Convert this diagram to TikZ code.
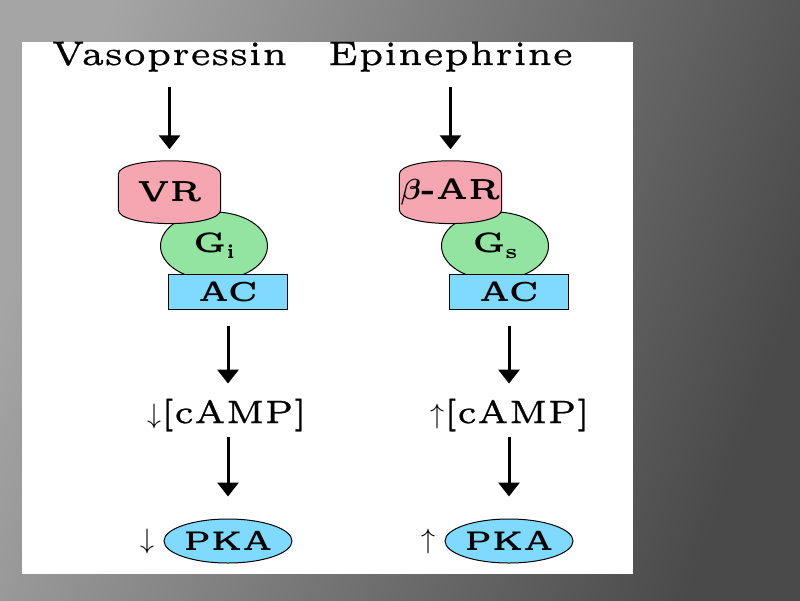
\RequirePackage{fix-cm}
\documentclass[tikz,border=0pt]{standalone}
\usepackage{fontspec}
\usepackage{amsmath,bm}
\usepackage{graphicx}
\newfontfamily\lmfive{lmroman5-regular.otf}[BoldFont=lmroman5-bold.otf]
\newfontfamily\lmfiveheavy{lmroman5-regular.otf}[FakeBold=0.7]
\usetikzlibrary{arrows.meta,shapes.geometric,backgrounds}
\definecolor{bglight}{RGB}{165,165,165}
\definecolor{bgmid}{RGB}{96,96,96}
\definecolor{bgdark}{RGB}{74,74,74}
\definecolor{rpink}{RGB}{246,166,176}
\definecolor{ggreen}{RGB}{146,228,160}
\definecolor{acblue}{RGB}{128,218,255}
\tikzset{
  hd/.style={inner sep=0pt, font=\lmfiveheavy\fontsize{34}{40}\selectfont},
  arr/.style={line width=3pt, -{Triangle[width=21pt,length=14pt]}},
  recbox/.style={inner sep=0pt, minimum width=102pt, minimum height=35pt, font=\lmfive\bfseries\fontsize{29}{32}\selectfont},
  recshape/.style={draw=black, line width=1pt, fill=rpink},
  gbox/.style={ellipse, draw=black, line width=1pt, fill=ggreen, inner sep=0pt, minimum width=107pt, minimum height=68pt, font=\lmfive\bfseries\fontsize{28}{30}\selectfont},
  acbox/.style={rectangle, draw=black, line width=1pt, fill=acblue, inner sep=0pt, minimum width=119pt, minimum height=35pt, font=\lmfive\bfseries\fontsize{27.5}{30}\selectfont},
  pkabox/.style={ellipse, draw=black, line width=1pt, fill=acblue, inner sep=0pt, minimum width=128pt, minimum height=44pt, font=\lmfive\bfseries\fontsize{27}{30}\selectfont},
  camp/.style={inner sep=0pt, font=\lmfiveheavy\fontsize{32.5}{36}\selectfont},
  sym/.style={inner sep=0pt, font=\fontsize{28}{32}\selectfont}
}
\newcommand{\subtx}[1]{\raisebox{-0.22em}{\fontsize{20}{22}\selectfont #1}}
\begin{document}
\begin{tikzpicture}[x=1pt,y=-1pt]
\useasboundingbox (0,0) rectangle (800,600);
\shade[shading=axis, left color=bglight, middle color=bgmid, right color=bgdark, shading angle=70] (0,0) rectangle (800,600);
\fill[white] (22,42) rectangle (633,574);

% headings
\node[hd, anchor=base] (vaso) at (169.5,65) {Vasopressin};
\node[hd, anchor=base] (epi) at (450.5,65) {Epinephrine};

% left column
\node[gbox] (Gi) at (214,246) {G\subtx{i}};
\node[recbox] (VR) at (169.5,192) {};
\draw[recshape] (VR.north west) -- (VR.south west) .. controls +(0,18.5) and +(0,18.5) .. (VR.south east) -- (VR.north east) .. controls +(0,-18) and +(0,-18) .. (VR.north west) -- cycle;
\node[recbox] at (VR.center) {VR};
\node[acbox] (ACl) at (228,291.5) {AC};
\node[camp] (campl) at (227,415) {{\fontsize{28}{32}\selectfont$\downarrow$}[cAMP]};
\node[pkabox] (PKAl) at (228,541) {PKA};
\node[sym] (dnl) at (147,541) {$\downarrow$};

% right column
\node[gbox] (Gs) at (495,246) {G\subtx{s}};
\node[recbox] (BAR) at (450.5,192) {};
\draw[recshape] (BAR.north west) -- (BAR.south west) .. controls +(0,18.5) and +(0,18.5) .. (BAR.south east) -- (BAR.north east) .. controls +(0,-18) and +(0,-18) .. (BAR.north west) -- cycle;
\node[recbox] at (BAR.center) {{\boldmath$\beta$}-AR};
\node[acbox] (ACr) at (509,291.5) {AC};
\node[camp] (campr) at (510,415) {{\fontsize{28}{32}\selectfont$\uparrow$}[cAMP]};
\node[pkabox] (PKAr) at (509,541) {PKA};
\node[sym] (upr) at (428,541) {$\uparrow$};

% arrows
\draw[arr, shorten <=15pt, shorten >=25pt] (vaso) -- (VR);
\draw[arr, shorten <=15pt, shorten >=25pt] (epi) -- (BAR);
\draw[arr, shorten <=16pt, shorten >=15pt] (ACl) -- (campl.north -| ACl);
\draw[arr, shorten <=16pt, shorten >=15pt] (ACr) -- (campr.north -| ACr);
\draw[arr, shorten <=6pt, shorten >=22pt] (campl.south -| PKAl) -- (PKAl);
\draw[arr, shorten <=6pt, shorten >=22pt] (campr.south -| PKAr) -- (PKAr);
\end{tikzpicture}
\end{document}
